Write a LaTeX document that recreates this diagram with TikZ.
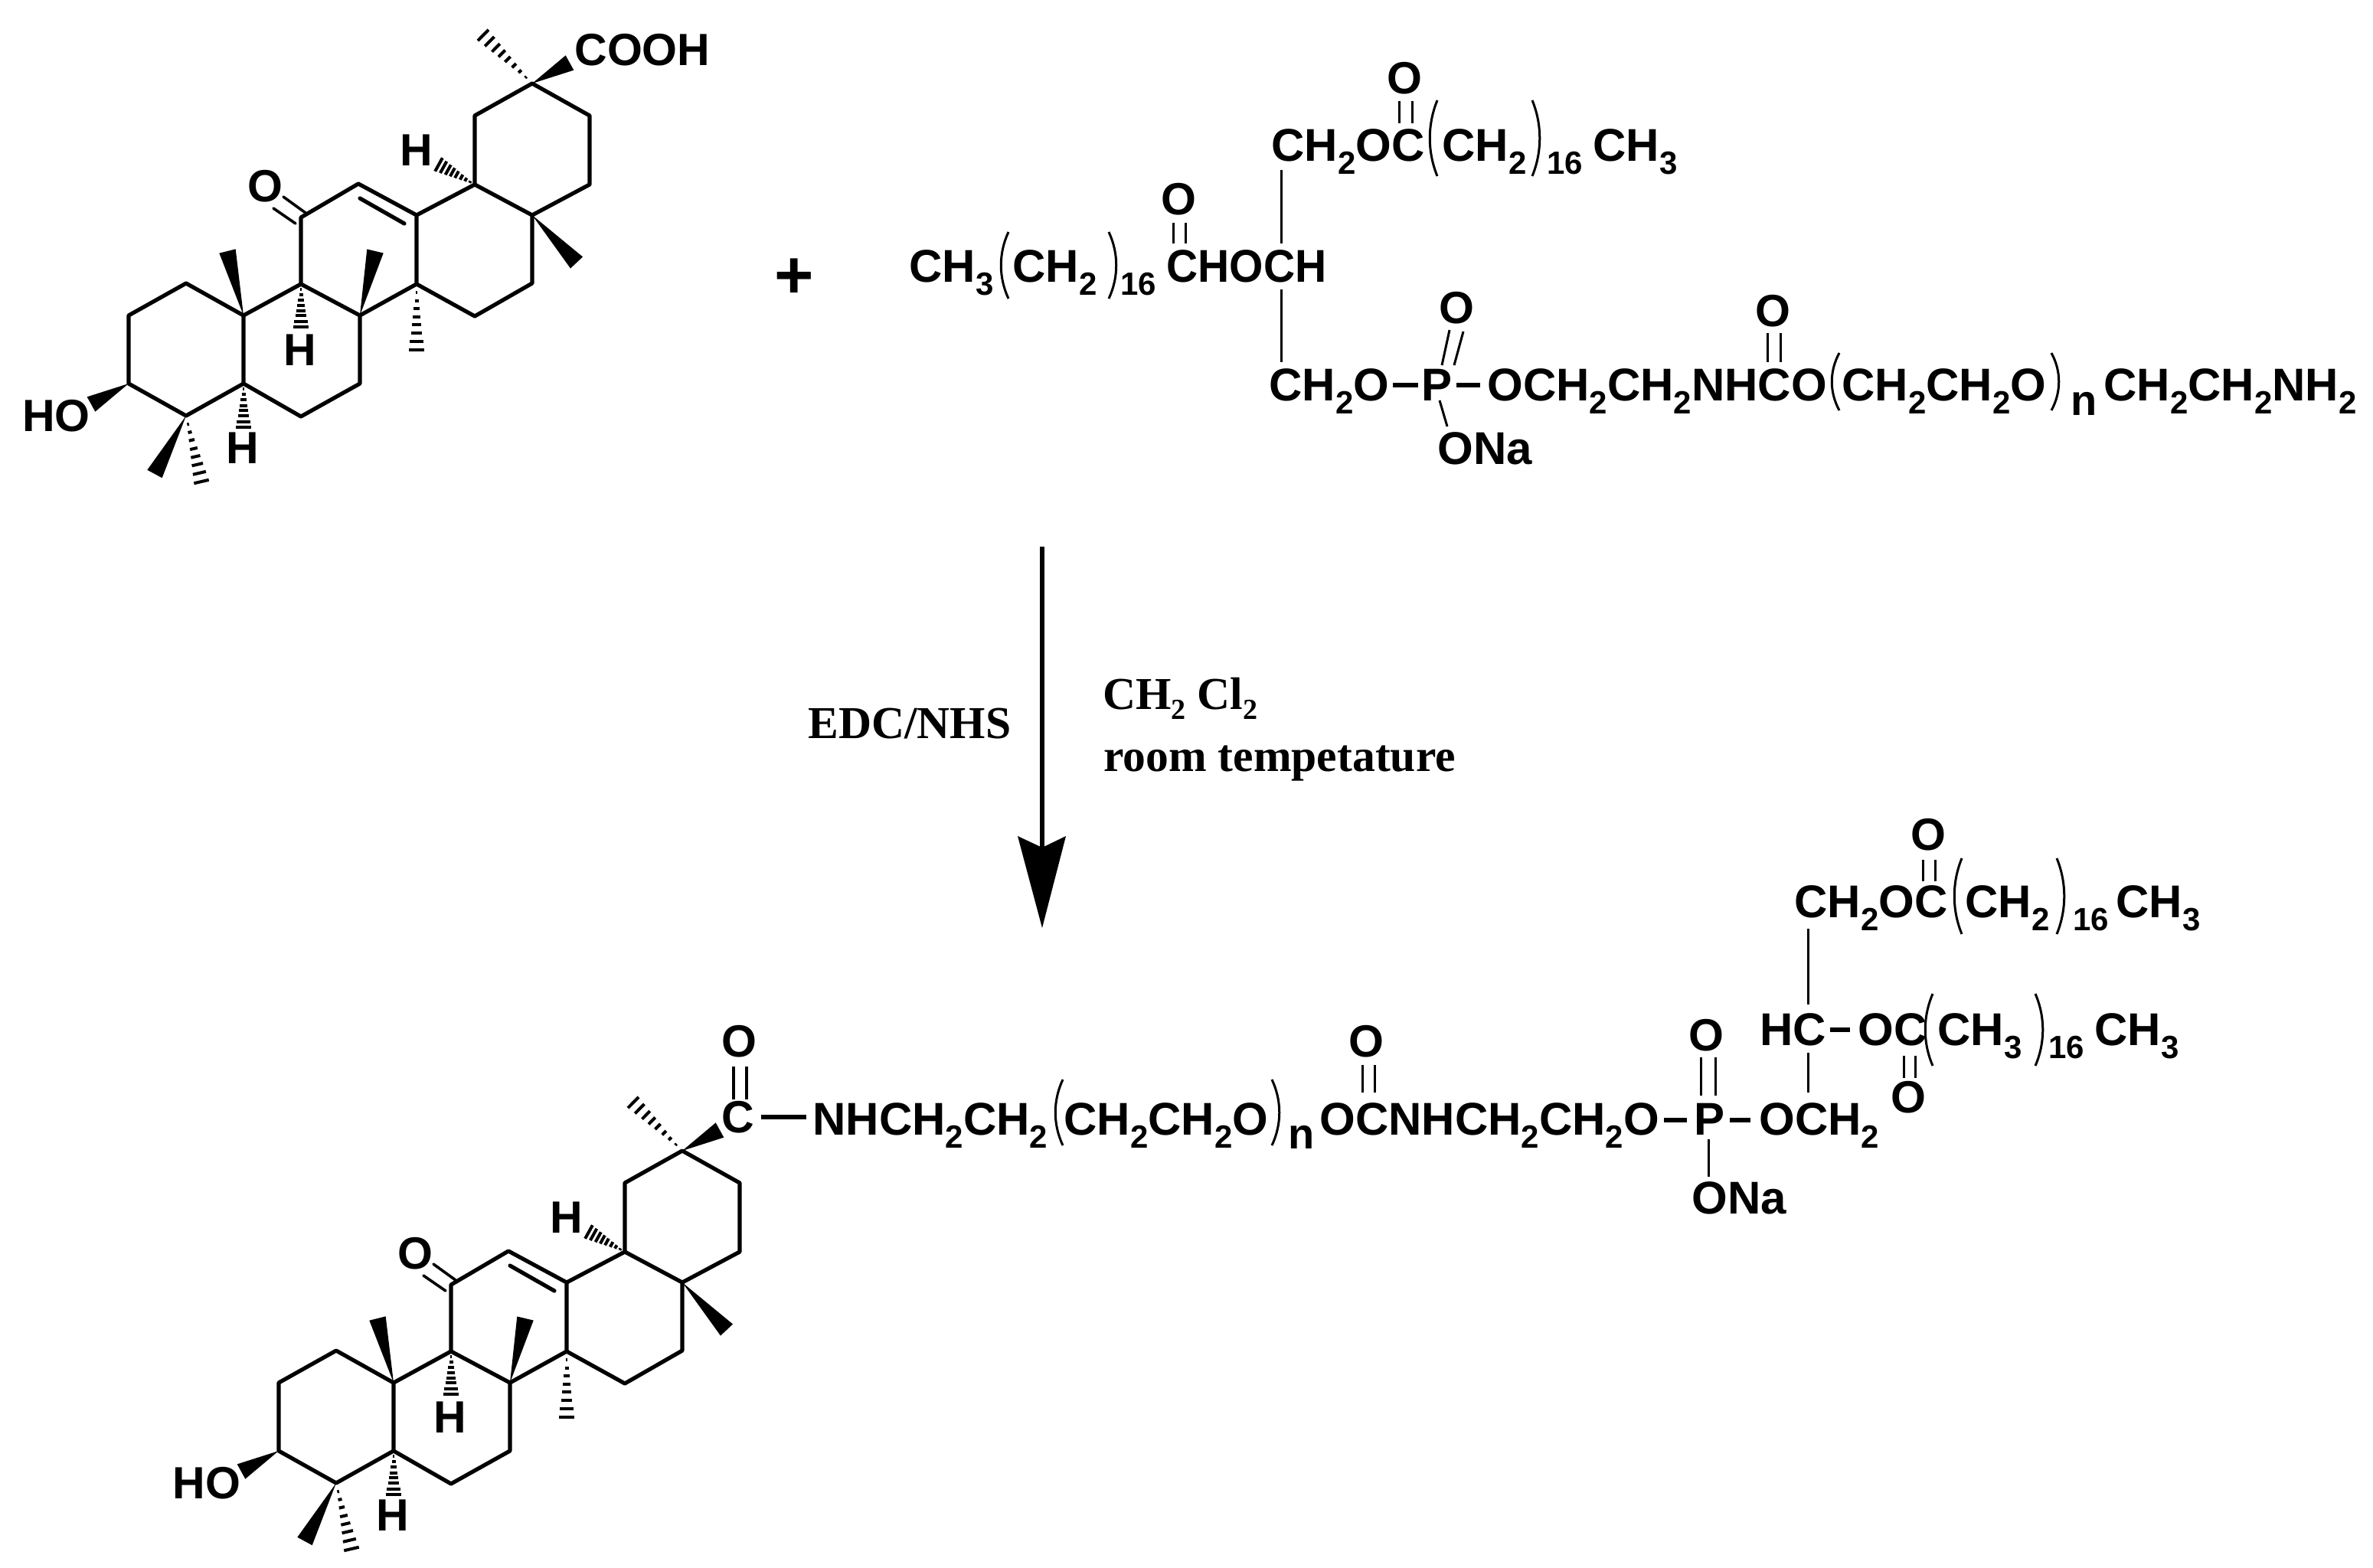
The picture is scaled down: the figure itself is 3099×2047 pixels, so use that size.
\documentclass[tikz,border=0pt]{standalone}
\usepackage{fontspec}
\setmainfont{Liberation Sans}
\newfontfamily\chainfont{Liberation Sans}
\newfontfamily\reagentfont{Liberation Serif}
\usetikzlibrary{calc}
\newcommand\chemsub[1]{\raisebox{-8.5pt}{\fontsize{21}{21}\selectfont #1}}
\newcommand\rgsub[1]{\raisebox{-6.5pt}{\fontsize{19}{19}\selectfont #1}}
\newcommand\wdg[2]{\fill (#1) -- ($(#2)!5.5pt!90:(#1)$) -- ($(#2)!5.5pt!-90:(#1)$) -- cycle;}
\newcommand\hsh[2]{\foreach \t in {0.13,0.25,0.37,0.5,0.62,0.74,0.87,1.0}{%
  \coordinate (hp) at ($(#1)!\t!(#2)$);
  \draw[line width=2pt] ($(hp)!\t*5pt!90:(#1)$) -- ($(hp)!\t*5pt!-90:(#1)$);}}
\newcommand\lpar[3]{\draw[thinbond] (#1+12,#2) .. controls (#1-1,#2*0.68+#3*0.32) and (#1-1,#2*0.32+#3*0.68) .. (#1+12,#3);}
\newcommand\rpar[3]{\draw[thinbond] (#1,#2) .. controls (#1+13,#2*0.68+#3*0.32) and (#1+13,#2*0.32+#3*0.68) .. (#1,#3);}
\tikzset{
  bond/.style={line width=2.6pt,line join=round,line cap=round},
  thinbond/.style={line width=1.5pt},
  thickdash/.style={line width=3.2pt},
  chem/.style={inner sep=0pt,font=\chainfont\bfseries\fontsize{30}{30}\selectfont,anchor=base west},
  atomlab/.style={inner sep=0pt,font=\bfseries\fontsize{29.5}{29.5}\selectfont},
  nlab/.style={chem,font=\chainfont\bfseries\fontsize{28}{28}\selectfont},
  reagent/.style={inner sep=0pt,font=\reagentfont\bfseries\fontsize{29.8}{29.8}\selectfont,anchor=base west},
  pics/triterpene/.style={code={
    \coordinate (c1) at (243,370); \coordinate (c2) at (168,412); \coordinate (c3) at (168,501);
    \coordinate (c4) at (243,543); \coordinate (c5) at (318,501); \coordinate (c10) at (318,412);
    \coordinate (c6) at (393,544); \coordinate (c7) at (470,501); \coordinate (c8) at (470,412);
    \coordinate (c9) at (393,371); \coordinate (c11) at (393,284); \coordinate (c12) at (468,240);
    \coordinate (c13) at (544,281); \coordinate (c14) at (544,371); \coordinate (c15) at (620,413);
    \coordinate (c16) at (695,370); \coordinate (c17) at (695,281); \coordinate (c18) at (620,241);
    \coordinate (c19) at (620,151); \coordinate (c20) at (695,109); \coordinate (c21) at (770,151);
    \coordinate (c22) at (770,241);
    \coordinate (me20a) at (744,82); \coordinate (me20b) at (631,46);
    \coordinate (h18) at (573,215); \coordinate (me10) at (297,328); \coordinate (me8) at (490,328);
    \coordinate (me17) at (753,343); \coordinate (me14) at (544,457); \coordinate (h9) at (393,427);
    \coordinate (h5) at (318,558); \coordinate (oh3) at (119,528); \coordinate (me4a) at (202,619);
    \coordinate (me4b) at (263,629);
    \coordinate (o11a) at (357,272); \coordinate (o11b) at (370,257);
    \coordinate (c11a) at (386,292); \coordinate (c11b) at (399,278);
    \coordinate (d12) at (470,259); \coordinate (d13) at (528,292);
    \draw[bond] (c3)--(c2)--(c1)--(c10)--(c5)--(c4)--cycle;
    \draw[bond] (c10)--(c9)--(c8)--(c7)--(c6)--(c5);
    \draw[bond] (c9)--(c11)--(c12)--(c13)--(c14)--(c8);
    \draw[bond] (c14)--(c15)--(c16)--(c17)--(c18)--(c13);
    \draw[bond] (c18)--(c19)--(c20)--(c21)--(c22)--(c17);
    \draw[bond] (d12)--(d13);
    \draw[bond,line width=1.8pt] (o11a)--(c11a) (o11b)--(c11b);
    \wdg{c20}{me20a} \wdg{c10}{me10} \wdg{c8}{me8} \wdg{c17}{me17} \wdg{c3}{oh3} \wdg{c4}{me4a}
    \hsh{c20}{me20b} \hsh{c18}{h18} \hsh{c14}{me14} \hsh{c9}{h9} \hsh{c5}{h5} \hsh{c4}{me4b}
    \node[atomlab] (o11) at (346,243) {O};
    \node[atomlab] (hh18) at (544,196) {H};
    \node[atomlab] (hh9) at (392,457) {H};
    \node[atomlab] (hh5) at (317,585) {H};
    \node[atomlab,anchor=west] (ho) at (29,543) {HO};
  }},
}
\begin{document}
\begin{tikzpicture}[x=0.5pt,y=-0.5pt]
\useasboundingbox (0,0) rectangle (3099,2047);
\pic (top) at (0,0) {triterpene};
\pic (bot) at (196,1394) {triterpene};
\node[atomlab,anchor=west] (cooh) at (750,65) {COOH};
\node[inner sep=0pt,font=\bfseries\fontsize{44}{44}\selectfont] (plus) at (1037,364) {+};

% top lipid
\node[chem] (t1a) at (1660,210) {CH\chemsub{2}OC};
\node[chem] (t1b) at (1883,210) {CH\chemsub{2}};
\node[chem] (t1c) at (2020,210) {\chemsub{16}};
\node[chem] (t1d) at (2080,210) {CH\chemsub{3}};
\node[atomlab] (t1o) at (1834,102) {O};
\draw[thinbond] (1827,132)--(1827,161) (1844,132)--(1844,161);
\lpar{1865}{131}{230} \rpar{2001}{131}{230}
\draw[thinbond] (1673,222)--(1673,318);
\node[chem] (t2a) at (1187,368) {CH\chemsub{3}};
\node[chem] (t2b) at (1322,368) {CH\chemsub{2}};
\node[chem] (t2c) at (1463,368) {\chemsub{16}};
\node[chem] (t2d) at (1523,368) {\scalebox{0.95}[1]{CHOCH}};
\node[atomlab] (t2o) at (1539,260) {O};
\draw[thinbond] (1532,291)--(1532,318) (1548,291)--(1548,318);
\lpar{1305}{303}{390} \rpar{1448}{303}{390}
\draw[thinbond] (1673,378)--(1673,473);
\node[chem] (t3a) at (1657,523) {CH\chemsub{2}O};
\draw[thickdash] (1819,503)--(1852,503);
\node[chem] (t3p) at (1856,523) {P};
\draw[thickdash] (1902,503)--(1933,503);
\node[chem] (t3b) at (1942,523) {OCH\chemsub{2}CH\chemsub{2}NHCO};
\node[chem] (t3c) at (2405,523) {CH\chemsub{2}CH\chemsub{2}O};
\node[nlab] (t3n) at (2704,542) {n};
\node[chem] (t3d) at (2747,523) {CH\chemsub{2}CH\chemsub{2}NH\chemsub{2}};
\lpar{2390}{461}{536} \rpar{2679}{461}{536}
\node[atomlab] (t3po) at (1902,402) {O};
\draw[thinbond] (1883,477)--(1893,431) (1899,477)--(1911,433);
\node[atomlab] (t3co) at (2315,406) {O};
\draw[thinbond] (2308,435)--(2308,473) (2325,435)--(2325,473);
\draw[thinbond] (1880,523)--(1890,557);
\node[chem] (t3na) at (1877,606) {ONa};

% arrow and reagents
\coordinate (arrowstart) at (1361,714);
\coordinate (arrownotch) at (1361,1107);
\coordinate (arrowtip) at (1361,1212);
\draw[line width=2.6pt] (arrowstart)--(arrownotch);
\fill (arrowtip) -- (1392,1092) -- (arrownotch) -- (1329,1092) -- cycle;
\node[reagent] (edc) at (1055,964) {EDC/NHS};
\node[reagent] (dcm) at (1440,926) {CH\rgsub{2} Cl\rgsub{2}};
\node[reagent] (rt) at (1441,1007) {room tempetature};

% bottom chain
\node[atomlab] (bc) at (964,1459) {C};
\node[atomlab] (bco) at (965,1360) {O};
\draw[line width=2pt] (958,1393)--(958,1436) (975,1393)--(975,1436);
\draw[thickdash] (bc.east)++(8,0) -- (1053,1459);
\node[chem] (b3a) at (1061,1482) {NHCH\chemsub{2}CH\chemsub{2}};
\node[chem] (b3b) at (1389,1482) {CH\chemsub{2}CH\chemsub{2}O};
\lpar{1376}{1410}{1496} \rpar{1661}{1410}{1496}
\node[nlab] (b3n) at (1682,1500) {n};
\node[chem] (b3c) at (1723,1482) {OCNHCH\chemsub{2}CH\chemsub{2}O};
\node[atomlab] (b3o) at (1784,1360) {O};
\draw[thinbond] (1779,1391)--(1779,1427) (1795,1391)--(1795,1427);
\draw[thickdash] (2173,1463)--(2203,1463);
\node[chem] (b3p) at (2212,1482) {P};
\draw[thickdash] (2259,1463)--(2286,1463);
\node[chem] (b3d) at (2297,1482) {OCH\chemsub{2}};
\node[atomlab] (b3po) at (2228,1352) {O};
\draw[thinbond] (2221,1381)--(2221,1431) (2240,1381)--(2240,1431);
\draw[thinbond] (2231,1488)--(2231,1537);
\node[chem] (b3na) at (2209,1585) {ONa};
\node[chem] (b1a) at (2343,1198) {CH\chemsub{2}OC};
\node[chem] (b1b) at (2566,1198) {CH\chemsub{2}};
\node[chem] (b1c) at (2707,1198) {\chemsub{16}};
\node[chem] (b1d) at (2763,1198) {CH\chemsub{3}};
\node[atomlab] (b1o) at (2518,1090) {O};
\draw[thinbond] (2511,1123)--(2511,1151) (2527,1123)--(2527,1151);
\lpar{2550}{1121}{1220} \rpar{2686}{1121}{1220}
\draw[thinbond] (2361,1213)--(2361,1312);
\node[chem] (b2a) at (2298,1365) {HC};
\draw[thickdash] (2390,1345)--(2416,1345);
\node[chem] (b2b) at (2426,1365) {OC};
\node[chem] (b2c) at (2530,1365) {CH\chemsub{3}};
\node[chem] (b2e) at (2675,1365) {\chemsub{16}};
\node[chem] (b2d) at (2735,1365) {CH\chemsub{3}};
\lpar{2512}{1298}{1392} \rpar{2658}{1298}{1392}
\node[atomlab] (b2o) at (2492,1433) {O};
\draw[thinbond] (2486,1379)--(2486,1408) (2501,1379)--(2501,1408);
\draw[thinbond] (2361,1375)--(2361,1427);
\end{tikzpicture}
\end{document}
